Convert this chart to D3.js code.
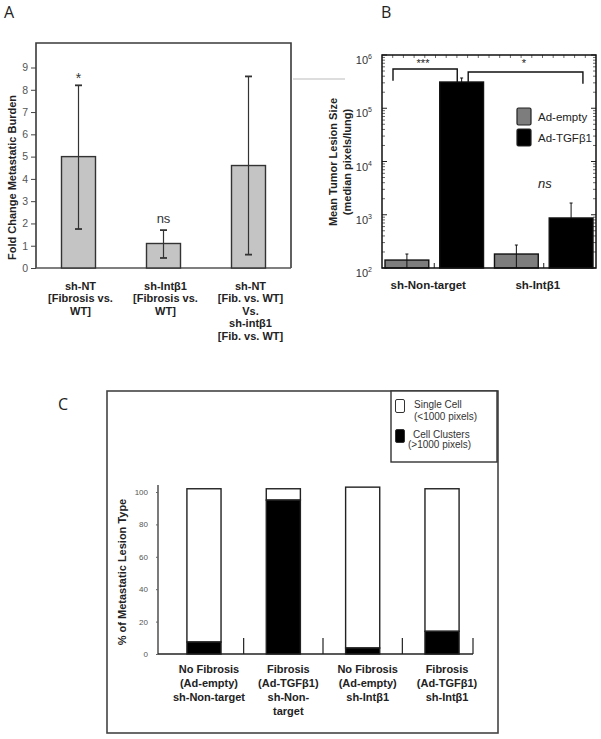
<!DOCTYPE html>
<html><head><meta charset="utf-8">
<script src="https://cdn.jsdelivr.net/npm/d3@7"></script>
<style>html,body{margin:0;padding:0;background:#fff;}svg{display:block;}</style>
</head><body>
<script>
// ---------- Panel A data ----------
const aCategories = [
  ["sh-NT", "[Fibrosis vs.", "WT]"],
  ["sh-Intβ1", "[Fibrosis vs.", "WT]"],
  ["sh-NT", "[Fib. vs. WT]", "Vs.", "sh-intβ1", "[Fib. vs. WT]"]
];
const aValues = [5.0, 1.1, 4.6];
const aErrLow = [1.75, 0.45, 0.6];
const aErrHigh = [8.2, 1.7, 8.6];
const aSig = ["*", "ns", ""];
const aTicks = [0, 1, 2, 3, 4, 5, 6, 7, 8, 9];

// ---------- Panel B data ----------
const bGroups = ["sh-Non-target", "sh-Intβ1"];
const bSeries = ["Ad-empty", "Ad-TGFβ1"];
const bEmpty = [141, 183];
const bEmptyErr = [183, 270];
const bTGF = [311000, 870];
const bTGFErr = [370000, 1660];
const bTickExp = [2, 3, 4, 5, 6];

// ---------- Panel C data ----------
const cCategories = [
  ["No Fibrosis", "(Ad-empty)", "sh-Non-target"],
  ["Fibrosis", "(Ad-TGFβ1)", "sh-Non-", "target"],
  ["No Fibrosis", "(Ad-empty)", "sh-Intβ1"],
  ["Fibrosis", "(Ad-TGFβ1)", "sh-Intβ1"]
];
const cClusters = [7.4, 95, 3.7, 14];
const cSingle = [94.6, 7, 99.3, 88];
const cTicks = [0, 20, 40, 60, 80, 100];
const cLegend = [["Single Cell", "(<1000 pixels)"], ["Cell Clusters", "(>1000 pixels)"]];

const FONT = "'Liberation Sans', Arial, sans-serif";
const svg = d3.select("body").append("svg").attr("width", 601).attr("height", 739)
  .style("font-family", FONT);
svg.append("rect").attr("width", 601).attr("height", 739).attr("fill", "#fff");

// panel letters
[["A", 4, 18], ["B", 381, 18], ["C", 58, 410]].forEach(([t, x, y]) =>
  svg.append("text").attr("x", x).attr("y", y).attr("font-family", "'Open Sans', sans-serif")
    .attr("font-size", 16).attr("fill", "#222").text(t));

// ================= Panel A =================
{
  const L = 36, R = 291, T = 43, B = 268;
  const x = d3.scaleBand().domain(d3.range(aValues.length)).range([L, R]).paddingInner(0.6).paddingOuter(0.3);
  const y = d3.scaleLinear().domain([0, 10.1]).range([B, T]);
  const g = svg.append("g");
  // frame
  g.append("path").attr("d", `M${L},${B}V${T}H${R}V${B}`).attr("fill", "none").attr("stroke", "#3a3a3a").attr("stroke-width", 1.6);
  g.append("line").attr("x1", L).attr("x2", R).attr("y1", B).attr("y2", B).attr("stroke", "#555").attr("stroke-width", 1.5);
  const ax = g.append("g").attr("transform", `translate(${L},0)`)
    .call(d3.axisLeft(y).tickValues(aTicks).tickSize(5).tickPadding(3).tickFormat(d3.format("d")));
  ax.select(".domain").remove();
  ax.selectAll("line").attr("stroke", "#444");
  ax.selectAll("text").attr("font-size", 10.5).attr("fill", "#555").attr("font-family", FONT);
  // bars
  g.selectAll(".bar").data(aValues).join("rect")
    .attr("x", (d, i) => x(i)).attr("width", x.bandwidth())
    .attr("y", d => y(d)).attr("height", d => B - y(d))
    .attr("fill", "#c4c4c4").attr("stroke", "#333").attr("stroke-width", 1.4);
  // error bars
  aValues.forEach((d, i) => {
    const cx = x(i) + x.bandwidth() / 2;
    g.append("line").attr("x1", cx).attr("x2", cx).attr("y1", y(aErrLow[i])).attr("y2", y(aErrHigh[i])).attr("stroke", "#333").attr("stroke-width", 1.2);
    [aErrLow[i], aErrHigh[i]].forEach(v => g.append("line").attr("x1", cx - 3.5).attr("x2", cx + 3.5).attr("y1", y(v)).attr("y2", y(v)).attr("stroke", "#333").attr("stroke-width", 1.8));
    if (aSig[i]) g.append("text").attr("x", cx).attr("y", y(aErrHigh[i]) - (aSig[i] === "*" ? 13 : 7))
      .attr("text-anchor", "middle").attr("font-size", aSig[i] === "*" ? 14 : 13).attr("fill", "#333")
      .attr("dy", aSig[i] === "*" ? "0.75em" : 0).text(aSig[i]);
  });
  // x labels
  aCategories.forEach((lines, i) => {
    const cx = x(i) + x.bandwidth() / 2 + 2;
    const t = g.append("text").attr("text-anchor", "middle").attr("font-size", 11).attr("font-weight", "bold").attr("fill", "#222");
    lines.forEach((s, k) => t.append("tspan").attr("x", cx).attr("y", 290 + k * 12.4).text(s));
  });
  g.append("text").attr("transform", `translate(16,${(T + B) / 2 + 22}) rotate(-90)`).attr("text-anchor", "middle")
    .attr("font-size", 11).attr("font-weight", "bold").attr("fill", "#222").text("Fold Change Metastatic Burden");
}

// ================= Panel B =================
{
  const L = 382, R = 596, T = 55, B = 268;
  const x0 = d3.scaleBand().domain(bGroups).range([385, 593]).paddingInner(0.1);
  const x1 = d3.scaleBand().domain(bSeries).range([0, x0.bandwidth()]).paddingInner(0.2);
  const y = d3.scaleLog().domain([100, 1e6]).range([B, T]);
  const col = d3.scaleOrdinal().domain(bSeries).range(["#7d7d7d", "#000"]);
  const g = svg.append("g");
  // stray line
  g.append("line").attr("x1", 293).attr("x2", 345).attr("y1", 79).attr("y2", 79).attr("stroke", "#bbb").attr("stroke-width", 1);
  // ticks (inside) on left and right
  const minor = [];
  bTickExp.slice(0, -1).forEach(e => { for (let k = 2; k <= 9; k++) minor.push(k * Math.pow(10, e)); });
  const major = bTickExp.map(e => Math.pow(10, e));
  [[L, 1], [R, -1]].forEach(([xx, s]) => {
    major.forEach(v => g.append("line").attr("x1", xx).attr("x2", xx + s * 5).attr("y1", y(v)).attr("y2", y(v)).attr("stroke", "#222"));
    minor.forEach(v => g.append("line").attr("x1", xx).attr("x2", xx + s * 3).attr("y1", y(v)).attr("y2", y(v)).attr("stroke", "#444").attr("stroke-width", 0.8));
  });
  // top minor ticks
  const tx = d3.scaleLinear().domain([0, 20]).range([L, R]);
  d3.range(1, 20).forEach(k => g.append("line").attr("x1", tx(k)).attr("x2", tx(k)).attr("y1", T).attr("y2", T + 3).attr("stroke", "#444").attr("stroke-width", 0.8));
  // bottom ticks at group centers
  bGroups.forEach(gr => { const cx = x0(gr) + x0.bandwidth() / 2; g.append("line").attr("x1", cx).attr("x2", cx).attr("y1", B).attr("y2", B - 5).attr("stroke", "#222"); });
  // tick labels
  bTickExp.forEach(e => {
    const t = g.append("text").attr("x", L - 10).attr("y", y(Math.pow(10, e)) + 9).attr("text-anchor", "end").attr("font-size", 11).attr("fill", "#333");
    t.append("tspan").text("10");
    t.append("tspan").attr("font-size", 7).attr("dy", -5).text(e);
  });
  // bars
  const gg = g.selectAll(".grp").data(bGroups).join("g").attr("transform", d => `translate(${x0(d)},0)`);
  gg.each(function (gr, i) {
    const vals = [bEmpty[i], bTGF[i]], errs = [bEmptyErr[i], bTGFErr[i]];
    const sel = d3.select(this);
    bSeries.forEach((s, j) => {
      sel.append("rect").attr("x", x1(s)).attr("width", x1.bandwidth()).attr("y", y(vals[j])).attr("height", B - y(vals[j]))
        .attr("fill", col(s)).attr("stroke", "#111").attr("stroke-width", 1.4);
      const cx = x1(s) + x1.bandwidth() / 2;
      sel.append("line").attr("x1", cx).attr("x2", cx).attr("y1", j === 0 ? B : y(vals[j])).attr("y2", y(errs[j])).attr("stroke", "#111").attr("stroke-width", 1);
      sel.append("line").attr("x1", cx - 1.5).attr("x2", cx + 1.5).attr("y1", y(errs[j])).attr("y2", y(errs[j])).attr("stroke", "#111").attr("stroke-width", 1);
    });
  });
  // frame
  g.append("rect").attr("x", L).attr("y", T).attr("width", R - L).attr("height", B - T).attr("fill", "none").attr("stroke", "#111").attr("stroke-width", 1.5);
  // significance brackets
  const g1 = x0(bGroups[0]), g2 = x0(bGroups[1]), bw = x1.bandwidth();
  const lb = [g1 + 8, g1 + x1(bSeries[1]) + bw * 0.4];
  g.append("path").attr("d", `M${lb[0]},${y(330000)}V${y(546000)}H${lb[1]}V${y(300000)}`).attr("fill", "none").attr("stroke", "#111").attr("stroke-width", 1.4);
  const rb = [g1 + x1(bSeries[1]) + bw * 0.65, g2 + x1(bSeries[1]) + bw * 0.77];
  g.append("path").attr("d", `M${rb[0]},${y(300000)}V${y(480000)}H${rb[1]}V${y(290000)}`).attr("fill", "none").attr("stroke", "#111").attr("stroke-width", 1.4);
  g.append("text").attr("x", g1 + 38).attr("y", 67).attr("text-anchor", "middle").attr("font-size", 11).attr("fill", "#222").text("***");
  g.append("text").attr("x", 524).attr("y", 67).attr("text-anchor", "middle").attr("font-size", 11).attr("fill", "#222").text("*");
  // legend
  bSeries.forEach((s, j) => {
    const yy = 108 + j * 21;
    g.append("rect").attr("x", 517).attr("y", yy).attr("width", 14).attr("height", 17).attr("rx", 1.5)
      .attr("fill", col(s)).attr("stroke", "#222").attr("stroke-width", 1.2);
    g.append("text").attr("x", 538).attr("y", yy + 13).attr("font-size", 11.5).attr("fill", "#222").text(s);
  });
  g.append("text").attr("x", 538).attr("y", 188).attr("font-size", 13).attr("font-style", "italic").attr("fill", "#222").text("ns");
  // x labels
  bGroups.forEach(gr => g.append("text").attr("x", x0(gr) + x0.bandwidth() / 2 - 6).attr("y", 289).attr("text-anchor", "middle")
    .attr("font-size", 11.5).attr("font-weight", "bold").attr("fill", "#222").text(gr));
  // y title
  const t = g.append("text").attr("transform", `translate(337,162) rotate(-90)`).attr("text-anchor", "middle")
    .attr("font-size", 11).attr("font-weight", "bold").attr("fill", "#222");
  t.append("tspan").attr("x", 0).attr("y", 0).text("Mean Tumor Lesion Size");
  t.append("tspan").attr("x", 0).attr("y", 14).text("(median pixels/lung)");
}

// ================= Panel C =================
{
  const g = svg.append("g");
  g.append("rect").attr("x", 107).attr("y", 391).attr("width", 391).attr("height", 342).attr("fill", "none").attr("stroke", "#444").attr("stroke-width", 1.6);
  const x = d3.scaleBand().domain(d3.range(cClusters.length)).range([164.3, 481.7]).paddingInner(0.57).paddingOuter(0.285);
  const y = d3.scaleLinear().domain([0, 100]).range([654, 492]);
  const AX = 158;
  g.append("line").attr("x1", AX).attr("x2", AX).attr("y1", 485).attr("y2", 654).attr("stroke", "#222").attr("stroke-width", 1.2);
  const ax = g.append("g").attr("transform", `translate(${AX},0)`).call(d3.axisLeft(y).tickValues(cTicks).tickSize(2).tickPadding(8));
  ax.select(".domain").remove();
  ax.selectAll("line").attr("stroke", "#666");
  ax.selectAll("text").attr("font-size", 8).attr("fill", "#555").attr("font-family", FONT);
  const seps = x.domain().map(i => x(i) + x.bandwidth() + (x.step() - x.bandwidth()) / 2);
  seps[seps.length - 1] = Math.min(seps[seps.length - 1], 473);
  g.append("line").attr("x1", AX).attr("x2", seps[seps.length - 1]).attr("y1", 654).attr("y2", 654).attr("stroke", "#222").attr("stroke-width", 1.4);
  seps.forEach(s => g.append("line").attr("x1", s).attr("x2", s).attr("y1", 654).attr("y2", 638).attr("stroke", "#222").attr("stroke-width", 1.2));
  // stacked bars
  cClusters.forEach((c, i) => {
    g.append("rect").attr("x", x(i)).attr("width", x.bandwidth()).attr("y", y(c + cSingle[i])).attr("height", y(c) - y(c + cSingle[i]))
      .attr("fill", "#fff").attr("stroke", "#222").attr("stroke-width", 1.4);
    g.append("rect").attr("x", x(i)).attr("width", x.bandwidth()).attr("y", y(c)).attr("height", y(0) - y(c))
      .attr("fill", "#000").attr("stroke", "#222").attr("stroke-width", 1.4);
  });
  // x labels
  cCategories.forEach((lines, i) => {
    const cx = x(i) + x.bandwidth() / 2 + 5;
    const t = g.append("text").attr("text-anchor", "middle").attr("font-size", 11).attr("font-weight", "bold").attr("fill", "#222");
    lines.forEach((s, k) => t.append("tspan").attr("x", cx).attr("y", 673 + k * 14).text(s));
  });
  g.append("text").attr("transform", `translate(126,572) rotate(-90)`).attr("text-anchor", "middle")
    .attr("font-size", 11).attr("font-weight", "bold").attr("fill", "#222").text("% of Metastatic Lesion Type");
  // legend
  g.append("rect").attr("x", 391).attr("y", 391).attr("width", 106).attr("height", 71).attr("fill", "#fff").attr("stroke", "#333").attr("stroke-width", 1.4);
  ["#fff", "#000"].forEach((f, j) => {
    g.append("rect").attr("x", 395.5).attr("y", 399.5 + j * 30).attr("width", 9).attr("height", 13).attr("rx", 1.5)
      .attr("fill", f).attr("stroke", "#333").attr("stroke-width", 1);
    const t = g.append("text").attr("font-size", 10).attr("fill", "#333");
    t.append("tspan").attr("x", j === 0 ? 414 : 413).attr("y", 408 + j * 30).text(cLegend[j][0]);
    t.append("tspan").attr("x", j === 0 ? 414 : 408).attr("y", 420 + j * 28).text(cLegend[j][1]);
  });
}
</script>
</body></html>
